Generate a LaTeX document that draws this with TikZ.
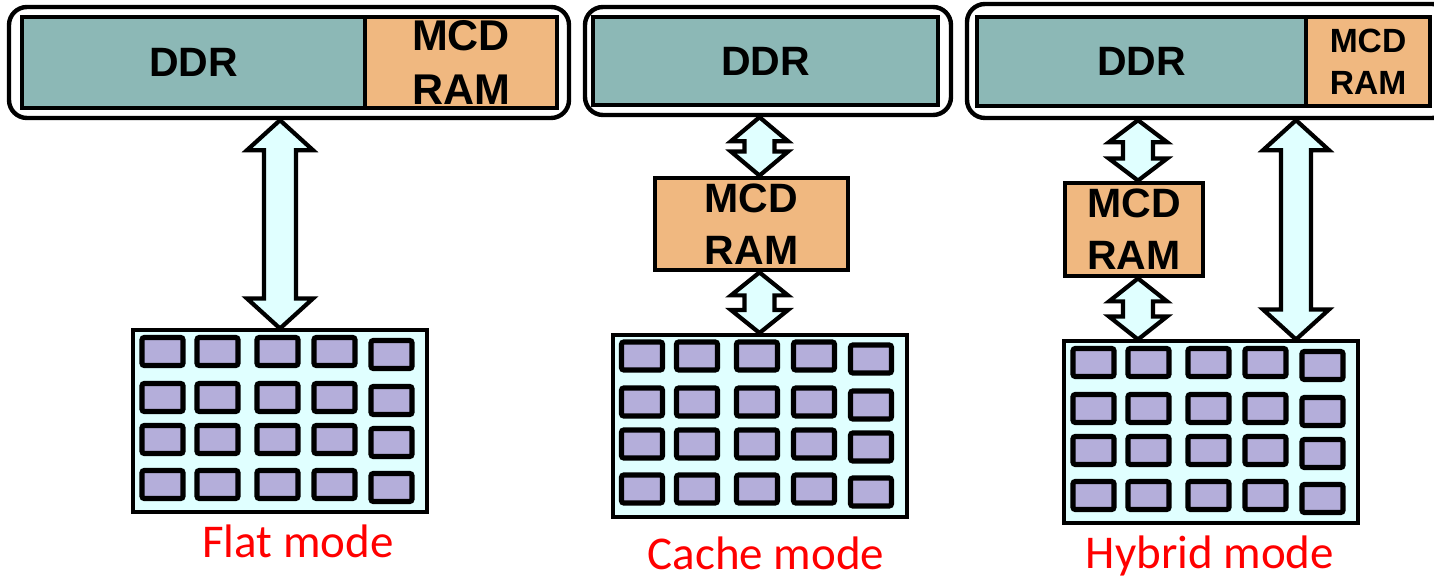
\documentclass[tikz,border=0pt]{standalone}
\usepackage{fontspec}
\setmainfont{Liberation Sans}
\newfontfamily\labelfont{Carlito}
\usetikzlibrary{calc}

\definecolor{ddrcol}{HTML}{8CB8B6}
\definecolor{mcdcol}{HTML}{F0B880}
\definecolor{chipcol}{HTML}{E0FFFF}
\definecolor{corecol}{HTML}{B4AEDA}

% fat double arrow between two points: top, bottom, shaft half, head half, head length
\newcommand{\dblarrow}[5]{%
  \draw[fatarrow] (#1) -- ($(#1)+(#4,#5)$) -- ($(#1)+(#3,#5)$) -- ($(#2)+(#3,-#5)$)
    -- ($(#2)+(#4,-#5)$) -- (#2) -- ($(#2)+(-#4,-#5)$) -- ($(#2)+(-#3,-#5)$)
    -- ($(#1)+(-#3,#5)$) -- ($(#1)+(-#4,#5)$) -- cycle;}

% the 5x4 cores of one chip
\newcommand{\cores}[1]{%
  \foreach \cx in {11,66,126,183}
    \foreach \cy in {9,55,97,142}
      \draw[core] ($(#1.north west)+(\cx,\cy)$) rectangle ++(41,28);
  \foreach \cy in {12,58,100,145}
    \draw[core] ($(#1.north west)+(240,\cy)$) rectangle ++(41,28);}

\begin{document}
\begin{tikzpicture}[x=0.5pt, y=-0.5pt,
    outerbox/.style={draw, line width=2.2pt, rounded corners=9pt, fill=white},
    ddrbox/.style={draw, line width=2.4pt, fill=ddrcol, font=\bfseries\fontsize{20.5}{24}\selectfont},
    mcdbox/.style={draw, line width=2.4pt, fill=mcdcol, align=center, inner sep=0pt},
    chip/.style={draw, line width=2pt, fill=chipcol, minimum width=147pt, minimum height=91pt},
    core/.style={draw, line width=2.6pt, fill=corecol, rounded corners=1.2pt},
    fatarrow/.style={draw, line width=2.1pt, fill=chipcol, line join=miter},
    modelabel/.style={anchor=base, text=red, font=\labelfont\fontsize{23.5}{28}\selectfont}]
  \useasboundingbox (0,0) rectangle (1434,581);

  % flat mode
  \node[outerbox, minimum width=280pt, minimum height=55.5pt] (outer1) at (289,62.5) {};
  \node[ddrbox, minimum width=171.5pt, minimum height=45.5pt] (ddr1) at (193.5,62.5) {DDR};
  \node[mcdbox, minimum width=96pt, minimum height=45.5pt,
        font=\bfseries\fontsize{21.5}{27}\selectfont] (mcd1) at (461,62.5) {MCD\\RAM};
  \node[chip] (grid1) at (280,421.5) {};
  \cores{grid1}
  \coordinate (a1) at (grid1.north |- outer1.south);
  \dblarrow{a1}{grid1.north}{16}{33}{30}
  \node[modelabel] (flat) at (298,558) {Flat mode};

  % cache mode
  \node[outerbox, minimum width=183pt, minimum height=54pt] (outer2) at (768,61) {};
  \node[ddrbox, minimum width=172.5pt, minimum height=44pt] (ddr2) at (765.5,61) {DDR};
  \node[mcdbox, minimum width=96.5pt, minimum height=46pt,
        font=\bfseries\fontsize{20.5}{26}\selectfont] (mcd2) at (751.5,224) {MCD\\RAM};
  \node[chip] (grid2) at (759.5,426) {};
  \cores{grid2}
  \coordinate (a2) at (grid2.north |- outer2.south);
  \coordinate (b2) at (grid2.north |- mcd2.north);
  \coordinate (c2) at (grid2.north |- mcd2.south);
  \dblarrow{a2}{b2}{15}{28.5}{24}
  \dblarrow{c2}{grid2.north}{15}{28.5}{23}
  \node[modelabel] (cache) at (766,570) {Cache mode};

  % hybrid mode
  \node[outerbox, minimum width=241.5pt, minimum height=57pt] (outer3) at (1208.5,61) {};
  \node[ddrbox, minimum width=164.5pt, minimum height=44.5pt] (ddr3) at (1141.5,61.5) {DDR};
  \node[mcdbox, minimum width=62pt, minimum height=44.5pt,
        font=\bfseries\fontsize{16.8}{21}\selectfont] (mcd3top) at (1368,61.5) {MCD\\RAM};
  \node[mcdbox, minimum width=69pt, minimum height=46.5pt,
        font=\bfseries\fontsize{20.5}{26}\selectfont] (mcd3) at (1134,229.5) {MCD\\RAM};
  \node[chip] (grid3) at (1211,432.5) {};
  \cores{grid3}
  \coordinate (a3) at (1138,0 |- outer3.south);
  \coordinate (b3) at (a3 |- mcd3.north);
  \coordinate (c3) at (a3 |- mcd3.south);
  \coordinate (d3) at (a3 |- grid3.north);
  \dblarrow{a3}{b3}{15}{29}{22}
  \dblarrow{c3}{d3}{15}{29}{23}
  \coordinate (t3) at (1296,0 |- outer3.south);
  \coordinate (u3) at (t3 |- grid3.north);
  \dblarrow{t3}{u3}{15}{33}{30}
  \node[modelabel] (hybrid) at (1210,569) {Hybrid mode};
\end{tikzpicture}
\end{document}
